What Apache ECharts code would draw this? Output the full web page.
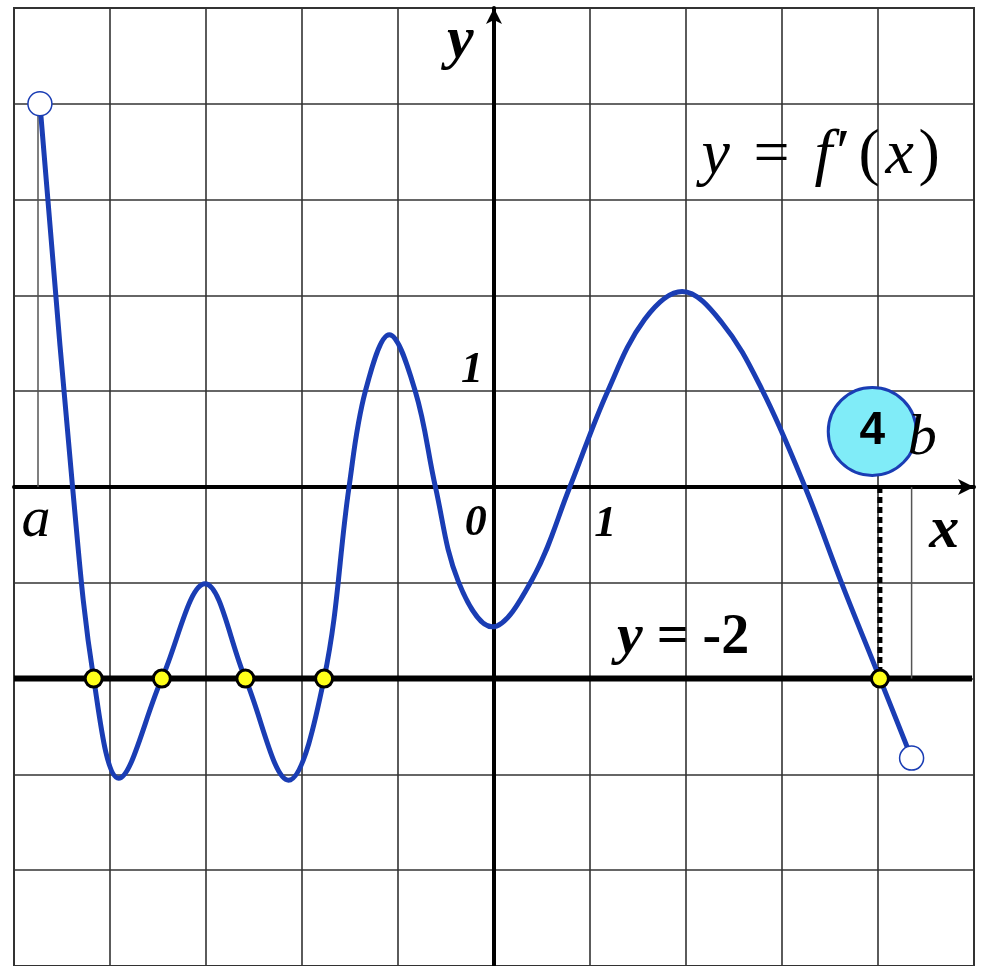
<!DOCTYPE html>
<html>
<head>
<meta charset="utf-8">
<script src="https://cdn.jsdelivr.net/npm/echarts@6/dist/echarts.min.js"></script>
<style>
html,body{margin:0;padding:0;background:#fff;}
#main{width:981px;height:966px;}
</style>
</head>
<body>
<div id="main"></div>
<script>
// 曲线 y = f'(x) 上读出的点
var curveX = [-4.73, -4.39, -4.17, -3.91, -3.46, -3.01, -2.59, -2.14, -1.77, -1.51, -1.34,
              -1.09, -0.82, -0.61, -0.37, -0.02, 0.40, 0.79, 1.18, 1.57, 1.96, 2.37, 2.79,
              3.24, 3.62, 4.02, 4.35];
var curveY = [4.0, 0, -2.0, -3.04, -2.0, -1.01, -2.0, -3.06, -2.0, 0, 1.0,
              1.59, 1.0, 0, -0.99, -1.46, -0.96, 0, 0.99, 1.75, 2.04, 1.72, 1.02,
              0, -1.0, -2.0, -2.83];
// 与直线 y = -2 的交点
var crossX = [-4.17, -3.46, -2.59, -1.77, 4.02];
var lineY = -2;
// 区间端点 a, b（空心点）
var endX = [-4.73, 4.35];
var endY = [4.0, -2.83];
// 刻度文字
var tickLabels = ['0', '1', '1'];
var answer = '4';

var blue = '#1a3db4';
var serif = '"Liberation Serif","DejaVu Serif",serif';
var sans = '"Liberation Sans","DejaVu Sans",sans-serif';

var chart = echarts.init(document.getElementById('main'));

var option = {
    animation: false,
    backgroundColor: '#fff',
    grid: {left: 14, top: 8, width: 960, height: 960, show: true, borderColor: '#333', borderWidth: 2},
    xAxis: {
        type: 'value', min: -5, max: 5, interval: 1,
        axisLine: {onZero: true, symbol: ['none', 'arrow'], symbolSize: [12, 16], lineStyle: {color: '#000', width: 4}},
        axisTick: {show: false}, axisLabel: {show: false},
        splitLine: {show: true, lineStyle: {color: '#333', width: 1.6}}
    },
    yAxis: {
        type: 'value', min: -5, max: 5, interval: 1,
        axisLine: {onZero: true, symbol: ['none', 'arrow'], symbolSize: [12, 16], lineStyle: {color: '#000', width: 4}},
        axisTick: {show: false}, axisLabel: {show: false},
        splitLine: {show: true, lineStyle: {color: '#333', width: 1.6}}
    },
    series: [
        {   // y = -2
            type: 'line', z: 2, symbol: 'none', silent: true,
            data: [[-5, lineY], [4.98, lineY]],
            lineStyle: {color: '#000', width: 6}
        },
        {   // 竖直虚线 x = 4
            type: 'line', z: 2, symbol: 'none', silent: true,
            data: [[crossX[4], 0], [crossX[4], lineY]],
            lineStyle: {color: '#000', width: 5, type: [6, 4]}
        },
        {   // a 处细线
            type: 'line', z: 2, symbol: 'none', silent: true,
            data: [[-4.75, endY[0]], [-4.75, 0]],
            lineStyle: {color: '#555', width: 1.5}
        },
        {   // b 处细线
            type: 'line', z: 2, symbol: 'none', silent: true,
            data: [[endX[1], 0], [endX[1], lineY]],
            lineStyle: {color: '#555', width: 1.5}
        },
        {   // 导函数曲线
            type: 'line', z: 3, symbol: 'none', smooth: 0.37,
            data: curveX.map(function(x, i){ return [x, curveY[i]]; }),
            lineStyle: {color: blue, width: 5}
        },
        {   // 空心端点
            type: 'scatter', z: 5, symbolSize: 24,
            data: endX.map(function(x, i){ return [x, endY[i]]; }),
            itemStyle: {color: '#fff', borderColor: blue, borderWidth: 1.5, opacity: 1}
        },
        {   // 交点（黄点）
            type: 'scatter', z: 6, symbolSize: 17,
            data: crossX.map(function(x){ return [x, lineY]; }),
            itemStyle: {color: '#ffff1a', borderColor: '#000', borderWidth: 3, opacity: 1}
        }
    ]
};
chart.setOption(option);

// 文字标注（按坐标换算成像素）
function px(x, y){ return chart.convertToPixel({gridIndex: 0}, [x, y]); }
function txt(x, y, s, font, extra){
    var p = px(x, y);
    var st = {text: s, x: p[0], y: p[1], font: font, fill: '#000',
              align: 'center', verticalAlign: 'middle', textAlign: 'center', textVerticalAlign: 'middle'};
    if (extra) for (var k in extra) st[k] = extra[k];
    return {type: 'text', z: 20, style: st};
}
var fi = 'italic 64px ' + serif;
var c = px(3.94, 0.58);
chart.setOption({
    graphic: [
        {type: 'circle', z: 19, shape: {cx: c[0], cy: c[1], r: 44},
         style: {fill: '#80ecf8', stroke: blue, lineWidth: 3}},
        txt(3.94, 0.58, answer, 'bold 46px ' + sans),
        txt(-4.77, -0.35, 'a', 'italic 58px ' + serif),
        txt(4.46, 0.5, 'b', 'italic 58px ' + serif),
        txt(4.69, -0.46, 'x', 'italic bold 60px ' + serif),
        txt(-0.35, 4.65, 'y', 'italic bold 60px ' + serif),
        txt(-0.19, -0.38, tickLabels[0], 'italic bold 44px ' + serif),
        txt(1.16, -0.39, tickLabels[1], 'italic bold 44px ' + serif),
        txt(-0.23, 1.21, tickLabels[2], 'italic bold 44px ' + serif),
        txt(3.38, 3.45, '{a|y}{b|=}{c|f\u2032}{d|(}{e|x}{f|)}', fi, {
            rich: {
                a: {font: fi, width: 52, align: 'left'},
                b: {font: '64px ' + serif, width: 61, align: 'left'},
                c: {font: fi, width: 44, align: 'left'},
                d: {font: '64px ' + serif, width: 27, align: 'left'},
                e: {font: fi, width: 33, align: 'left'},
                f: {font: '64px ' + serif, width: 17, align: 'left'}
            }
        }),
        txt(1.97, -1.58, '{i|y} {n|= -2}', 'bold 56px ' + serif, {
            rich: {
                i: {font: 'italic bold 58px ' + serif},
                n: {font: 'bold 56px ' + serif}
            }
        })
    ]
});
</script>
</body>
</html>
